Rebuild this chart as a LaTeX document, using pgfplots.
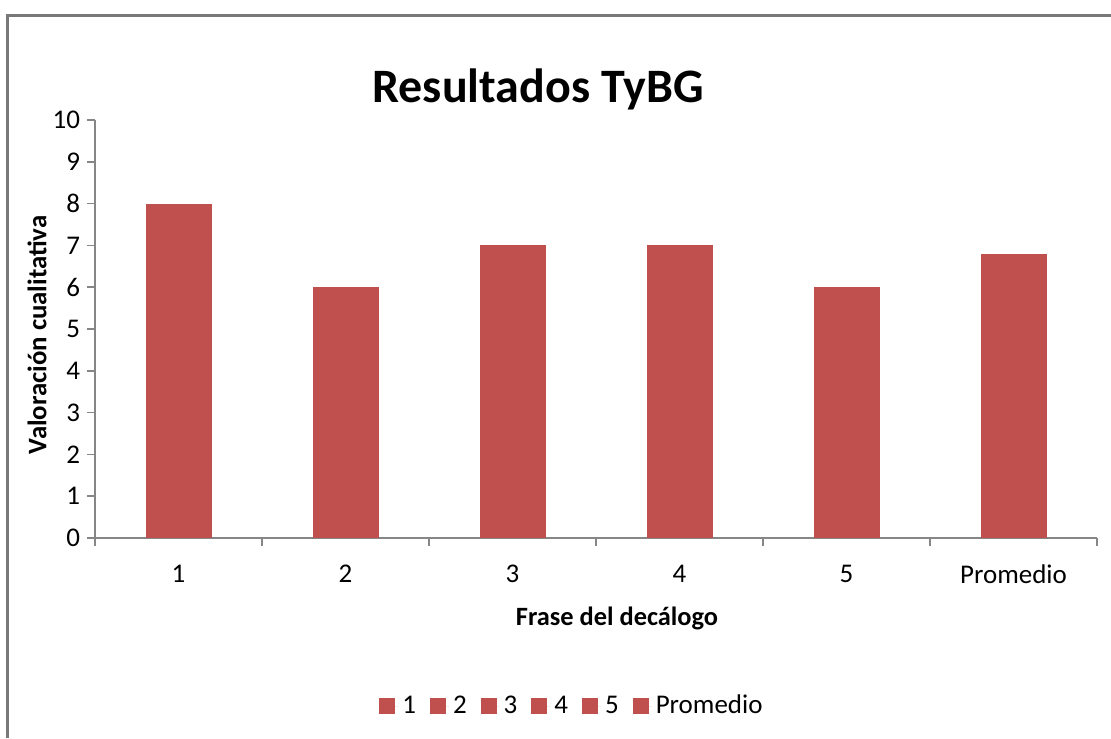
\documentclass[border=0pt]{standalone}
\usepackage{pgfplots}
\pgfplotsset{compat=1.18}
\usepackage{fontspec}
\setmainfont{Carlito}
\definecolor{barred}{HTML}{C0504D}
\definecolor{axgray}{HTML}{868686}
\begin{document}
\begin{tikzpicture}
\path[use as bounding box] (0,0) rectangle (555.5pt,369pt);
\draw[axgray!90!black, line width=1.5pt] (3.5pt,0) -- (3.5pt,361pt) -- (555.5pt,361pt);
\node[anchor=base, font=\fontsize{24}{28}\selectfont\bfseries] at (269pt,317.5pt) {Resultados TyBG};
\node[rotate=90, font=\fontsize{13.4}{16}\selectfont\bfseries] at (18.5pt,201.5pt) {Valoración cualitativa};
\node[font=\fontsize{13.2}{16}\selectfont\bfseries] at (308.5pt,60pt) {Frase del decálogo};
\begin{axis}[
  at={(47.5pt,100pt)}, anchor=south west,
  width=501pt, height=209pt, scale only axis,
  xmin=0, xmax=6, ymin=0, ymax=10,
  axis x line*=bottom, axis y line*=left,
  axis line style={axgray, line width=0.8pt},
  every tick/.style={axgray, line width=0.8pt},
  tick align=outside, major tick length=4pt,
  xtick={0,1,...,6}, xticklabels={},
  extra x ticks={0.5,1.5,2.5,3.5,4.5,5.5},
  extra x tick labels={1,2,3,4,5,Promedio},
  extra x tick style={major tick length=0pt, tick label style={yshift=-10pt}},
  ytick={0,1,...,10},
  tick label style={font=\fontsize{13.5}{16}\selectfont, black},
  /pgf/number format/assume math mode=true,
  ybar, bar width=33pt, bar shift=0pt,
  legend columns=-1,
  legend style={at={(0.477,-0.402)}, anchor=center, draw=none, fill=none,
    font=\fontsize{13.5}{16}\selectfont,
    /tikz/every even column/.style={column sep=5pt}},
  legend image code/.code={\fill[#1] (0pt,-4pt) rectangle (8pt,4pt); \path (0pt,0pt) -- (9.5pt,0pt);},
]
\addplot[fill=barred, draw=none] coordinates {(0.5,8)};
\addplot[fill=barred, draw=none] coordinates {(1.5,6)};
\addplot[fill=barred, draw=none] coordinates {(2.5,7)};
\addplot[fill=barred, draw=none] coordinates {(3.5,7)};
\addplot[fill=barred, draw=none] coordinates {(4.5,6)};
\addplot[fill=barred, draw=none] coordinates {(5.5,6.8)};
\legend{1,2,3,4,5,Promedio}
\end{axis}
\end{tikzpicture}
\end{document}
